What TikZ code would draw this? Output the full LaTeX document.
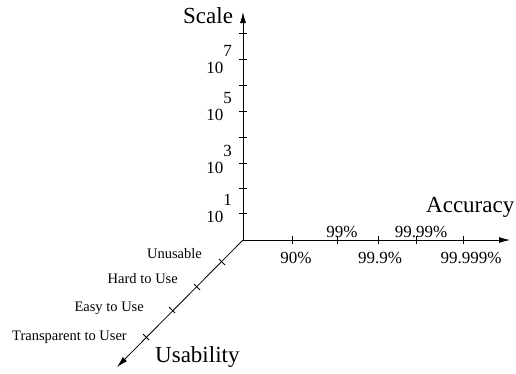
\documentclass[tikz,border=0pt]{standalone}
\usepackage{fontspec}
\setmainfont{Liberation Serif}
\usetikzlibrary{arrows.meta,positioning}

\begin{document}
\begin{tikzpicture}[%
    x=1pt, y=-1pt,                       % picture units, y grows downwards
    >={Latex[length=11pt,width=6pt]},    % filled arrow heads
    ]
% -------------------------------------------------
% A few styles
\tikzset{
  axis/.style={->, line width=0.8pt},
  tickmark/.style={line width=0.8pt},
  big/.style={font=\fontsize{23}{27}\selectfont, inner sep=0pt, anchor=base west},
  num/.style={font=\fontsize{17}{20}\selectfont, inner sep=0pt, anchor=base},
  pow/.style={num, anchor=base east},
  usab/.style={font=\fontsize{14.5}{17}\selectfont, inner sep=0pt, anchor=base east}
}
\useasboundingbox (0,0) rectangle (516,373);
% -------------------------------------------------
% The three axes
\coordinate (o) at (243,240);
\coordinate (scaleEnd) at (243,12);
\coordinate (accEnd) at (510,240);
\coordinate (usEnd) at (117,367);

\draw[axis] (o) -- (scaleEnd);
\draw[axis] (o) -- (accEnd);
\draw[axis] (o) -- (usEnd);

% Tick marks
\foreach \y in {33,59,85,111,137,163,188,213}
  \draw[tickmark] (239,\y) -- (247,\y);
\foreach \x in {292,337,378,416,463}
  \draw[tickmark] (\x,236) -- (\x,244);
\foreach \x/\y in {222/262,197/287,172/310,146/337}
  \draw[tickmark] (\x-3,\y-3) -- (\x+3,\y+3);

% -------------------------------------------------
% Axis names
\node[big] (scale) at (183,23) {Scale};
\node[big] (acc) at (426,212) {Accuracy};
\node[big] (usab) at (155,362) {Usability};

% Scale labels
\node[pow] (p7) at (232,73) {10\raisebox{17pt}{7}};
\node[pow] (p5) at (232,120) {10\raisebox{17pt}{5}};
\node[pow] (p3) at (232,173) {10\raisebox{17pt}{3}};
\node[pow] (p1) at (232,222) {10\raisebox{17pt}{1}};

% Accuracy labels
\node[num] (a1) at (296,263) {90\%};
\node[num] (a2) at (342,237) {99\%};
\node[num] (a3) at (380,263) {99.9\%};
\node[num] (a4) at (421,237) {99.99\%};
\node[num] (a5) at (471,263) {99.999\%};

% Usability labels
\node[usab] (u1) at (202,258) {Unusable};
\node[usab] (u2) at (178,283) {Hard to Use};
\node[usab] (u3) at (144,311) {Easy to Use};
\node[usab] (u4) at (127,340) {Transparent to User};
% -------------------------------------------------
\end{tikzpicture}
\end{document}
